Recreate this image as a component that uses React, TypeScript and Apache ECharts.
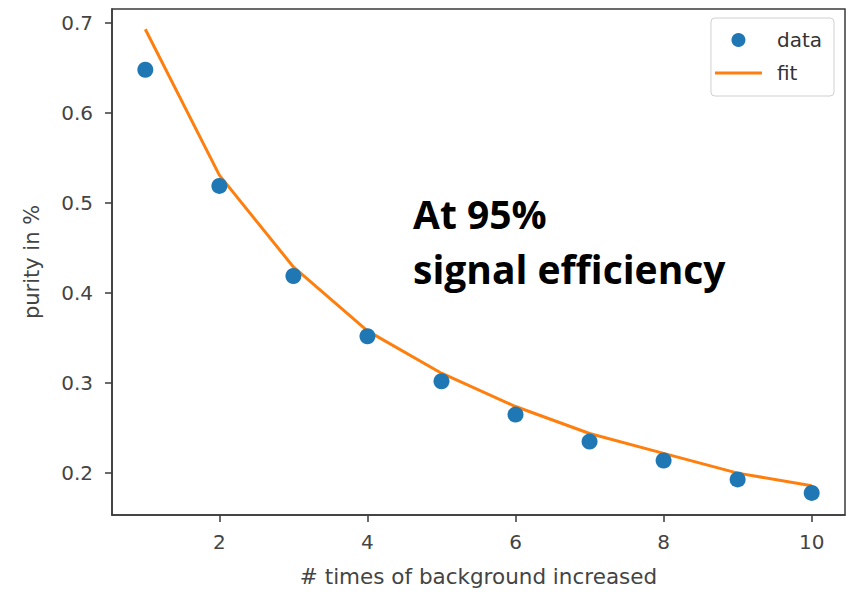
import React, { useEffect, useRef } from "react";
import * as echarts from "echarts";

const xValues = [1, 2, 3, 4, 5, 6, 7, 8, 9, 10];
const purityData = [0.648, 0.519, 0.419, 0.352, 0.302, 0.265, 0.235, 0.214, 0.193, 0.178];
const purityFit = [0.693, 0.531, 0.429, 0.358, 0.311, 0.274, 0.244, 0.222, 0.2, 0.186];
const xTicks = [2, 4, 6, 8, 10];
const yTicks = [0.2, 0.3, 0.4, 0.5, 0.6, 0.7];
const annotationLines = ["At 95%", "signal efficiency"];

const FONT = "DejaVu Sans";

export default function App() {
  const ref = useRef<HTMLDivElement>(null);
  useEffect(() => {
    if (!ref.current) return;
    const chart = echarts.init(ref.current, undefined, { renderer: "svg" });
    const tickLabel = { color: "#444", fontFamily: FONT, fontSize: 20 };
    chart.setOption({
      animation: false,
      backgroundColor: "#ffffff",
      grid: {
        left: 112,
        top: 9,
        right: 9,
        bottom: 75,
        show: true,
        borderColor: "#3a3a3a",
        borderWidth: 1.5,
        backgroundColor: "transparent",
      },
      xAxis: {
        type: "value",
        min: 0.55,
        max: 10.45,
        name: "# times of background increased",
        nameLocation: "middle",
        nameGap: 50,
        nameTextStyle: { color: "#444", fontFamily: FONT, fontSize: 21.5 },
        axisLine: { show: true, lineStyle: { color: "#3a3a3a", width: 1.5 } },
        axisTick: { show: true, length: 7, customValues: xTicks, lineStyle: { color: "#3a3a3a", width: 1.5 } },
        axisLabel: { ...tickLabel, margin: 17, customValues: xTicks, formatter: (v: number) => String(v) },
        splitLine: { show: false },
      },
      yAxis: {
        type: "value",
        min: 0.1535,
        max: 0.7155,
        name: "purity in %",
        nameLocation: "middle",
        nameGap: 70,
        nameTextStyle: { color: "#444", fontFamily: FONT, fontSize: 21 },
        axisLine: { show: true, lineStyle: { color: "#3a3a3a", width: 1.5 } },
        axisTick: { show: true, length: 7, customValues: yTicks, lineStyle: { color: "#3a3a3a", width: 1.5 } },
        axisLabel: { ...tickLabel, margin: 19, customValues: yTicks, formatter: (v: number) => v.toFixed(1) },
        splitLine: { show: false },
      },
      legend: {
        orient: "vertical",
        right: 20,
        top: 18,
        align: "left",
        itemWidth: 47,
        itemHeight: 14,
        itemGap: 9,
        padding: [10, 12, 11, 4],
        borderColor: "#d0d0d0",
        borderWidth: 1,
        borderRadius: 4,
        backgroundColor: "rgba(255,255,255,0.8)",
        textStyle: { color: "#333", fontFamily: FONT, fontSize: 20, padding: [0, 0, 0, 10], lineHeight: 24 },
        data: [
          { name: "data", icon: "circle" },
          { name: "fit", icon: "path://M0 0H100V6H0Z" },
        ],
      },
      graphic: [
        {
          type: "text",
          left: 413,
          top: 186,
          style: {
            text: annotationLines.join("\n"),
            fontFamily: "Open Sans",
            fontWeight: "bold",
            fontSize: 39,
            lineHeight: 55,
            fill: "#000",
          },
        },
      ],
      series: [
        {
          name: "data",
          type: "scatter",
          symbol: "circle",
          symbolSize: 16,
          itemStyle: { color: "#1f77b4", opacity: 1 },
          data: xValues.map((x, i) => [x, purityData[i]]),
          z: 3,
        },
        {
          name: "fit",
          type: "line",
          symbol: "none",
          showSymbol: false,
          lineStyle: { color: "#ff7f0e", width: 3 },
          itemStyle: { color: "#ff7f0e" },
          data: xValues.map((x, i) => [x, purityFit[i]]),
          z: 2,
        },
      ],
    });
    return () => chart.dispose();
  }, []);
  return <div ref={ref} style={{ width: 854, height: 592, position: "absolute", left: 0, top: 0 }} />;
}
